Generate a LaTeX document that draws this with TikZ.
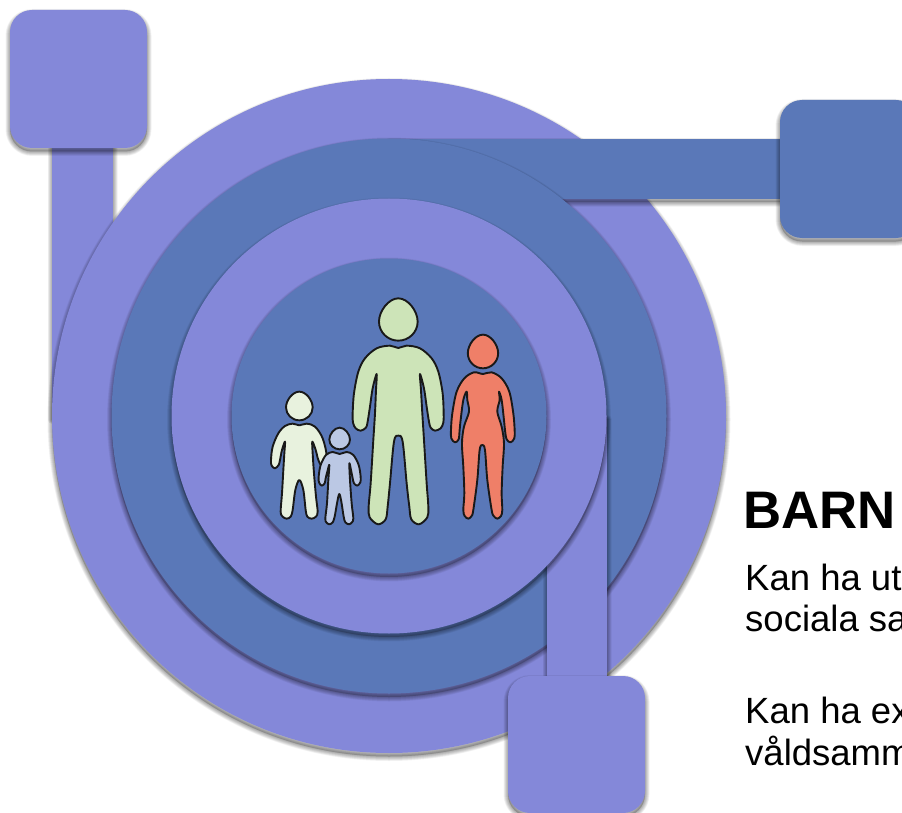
\documentclass[tikz,border=0pt]{standalone}
\usepackage{fontspec}
\setmainfont{Liberation Sans}
\definecolor{ringpurple}{RGB}{132,136,217}
\definecolor{ringblue}{RGB}{90,120,184}
\definecolor{manfill}{RGB}{205,228,184}
\definecolor{womanfill}{RGB}{239,127,104}
\definecolor{childafill}{RGB}{232,242,222}
\definecolor{childbfill}{RGB}{187,200,228}
\newcommand{\softlayer}[3]{%
  \foreach \wd in {9,8,7,6,5,4,3,2,1}{%
    \path[draw=black,line width=\wd pt,opacity=0.04,yshift=-3.5pt,line join=round,#2] #3;}%
  \path[fill=black,opacity=0.2,yshift=-3.5pt,#2] #3;%
  \path[fill=#1,#2] #3;}
\newcommand{\egghead}[5]{%
  \draw[figure,fill=#1,shift={(#2,#3)},x=#4*0.3333pt,y=-#5*0.3333pt]
    (0,1) .. controls (.55,1) and (1,.6) .. (1,.1) .. controls (1,-.4) and (.5,-1) .. (0,-1)
    .. controls (-.5,-1) and (-1,-.4) .. (-1,.1) .. controls (-1,.6) and (-.55,1) .. (0,1) -- cycle;}
\tikzset{
  boxround/.style={rounded corners=22pt},
  figure/.style={draw=black!90,line width=1.9pt,line join=round},
  outline/.style={smooth cycle,tension=0.55},
  heading/.style={anchor=base west,font=\fontsize{52.8}{52.8}\selectfont\bfseries,text=black,inner sep=0pt},
  bodytext/.style={anchor=base west,font=\fontsize{36.5}{36.5}\selectfont,text=black,inner sep=0pt}
}
\begin{document}
\begin{tikzpicture}[x=1pt,y=-1pt]
\useasboundingbox (0,0) rectangle (902,813);
\clip (0,0) rectangle (902,813);
\fill[white] (0,0) rectangle (902,813);
% left stem, outer disc
\softlayer{ringpurple}{}{(52,100) rectangle (113,416)}
\softlayer{ringpurple}{boxround}{(10,10) rectangle (147,148)}
\softlayer{ringpurple}{}{(389,416) circle [radius=337]}
% horizontal stem
\softlayer{ringblue}{}{(389,139) rectangle (800,199)}
\softlayer{ringblue}{boxround}{(780,100) rectangle (918,238)}
\softlayer{ringblue}{}{(389,416) circle [radius=277.5]}
% vertical stem
\softlayer{ringpurple}{}{(547,416) rectangle (607,700)}
\softlayer{ringpurple}{boxround}{(508,676) rectangle (645,813)}
\softlayer{ringpurple}{}{(389,416) circle [radius=217.5]}
\softlayer{ringblue}{}{(389,416) circle [radius=157.5]}
% people
\begin{scope}[shift={(250,280)},x=0.3333pt,y=-0.3333pt]
  % man
  \egghead{manfill}{445}{118.5}{58}{63.5}
  \draw[figure,fill=manfill] plot[outline] coordinates {(445,204)(470,197)(510,205)(545,235)(565,275)(578,340)(581,400)(580,428)(572,445)(555,452)(542,443)(537,425)(530,380)(522,325)(510,282)(513,330)(517,400)(522,480)(530,610)(535,680)(532,712)(507,733)(484,718)(478,680)(470,610)(458,485)(445,467)(432,485)(420,610)(413,680)(407,718)(384,733)(359,712)(356,680)(362,610)(370,480)(375,400)(378,330)(380,282)(368,325)(360,380)(353,425)(348,443)(332,452)(317,445)(309,428)(308,400)(312,340)(325,275)(345,235)(380,205)(420,197)};
  % woman
  \egghead{womanfill}{699}{214.5}{45.5}{50.5}
  \draw[figure,fill=womanfill] plot[outline] coordinates {(699,282)(725,277)(755,295)(778,335)(790,400)(794,450)(793,475)(782,487)(770,478)(765,450)(762,420)(755,360)(747,335)(749,360)(742,395)(755,440)(762,490)(758,560)(755,640)(757,690)(753,708)(742,716)(731,708)(725,690)(712,600)(705,510)(697,495)(689,510)(682,600)(670,690)(665,708)(655,716)(644,708)(640,690)(643,640)(640,560)(636,490)(642,440)(657,395)(652,360)(650,335)(640,360)(632,420)(629,450)(626,478)(615,487)(604,475)(603,450)(607,400)(620,335)(643,295)(672,277)};
  % older child
  \egghead{childafill}{148}{378}{40}{43}
  \draw[figure,fill=childafill] plot[outline] coordinates {(148,436)(170,431)(195,440)(218,475)(230,530)(215,555)(205,540)(197,510)(187,485)(188,520)(192,580)(198,650)(203,695)(198,710)(185,716)(172,710)(167,690)(160,630)(148,600)(136,630)(128,690)(122,710)(110,716)(98,710)(92,695)(96,640)(100,570)(103,520)(105,485)(96,510)(90,540)(86,555)(75,565)(65,557)(63,540)(68,500)(85,460)(105,438)(128,431)};
  % younger child
  \egghead{childbfill}{269}{475.5}{31}{32.5}
  \draw[figure,fill=childbfill] plot[outline] coordinates {(269,522)(290,516)(310,525)(326,555)(332,590)(331,607)(322,617)(312,610)(308,595)(303,570)(298,550)(300,600)(305,670)(310,715)(306,727)(297,733)(286,727)(281,710)(274,665)(268,642)(262,665)(254,710)(248,727)(238,733)(229,727)(226,715)(231,670)(235,600)(238,555)(232,575)(227,595)(224,610)(215,617)(207,607)(206,590)(212,555)(228,525)(248,516)};
\end{scope}
% text
\node[heading] (title) at (743,528) {BARN};
\node[bodytext] (lineA) at (745,590) {Kan ha ut};
\node[bodytext] (lineB) at (745,631) {sociala sa};
\node[bodytext] (lineC) at (745,723) {Kan ha ex};
\node[bodytext] (lineD) at (745,765) {våldsamm};
\end{tikzpicture}
\end{document}
